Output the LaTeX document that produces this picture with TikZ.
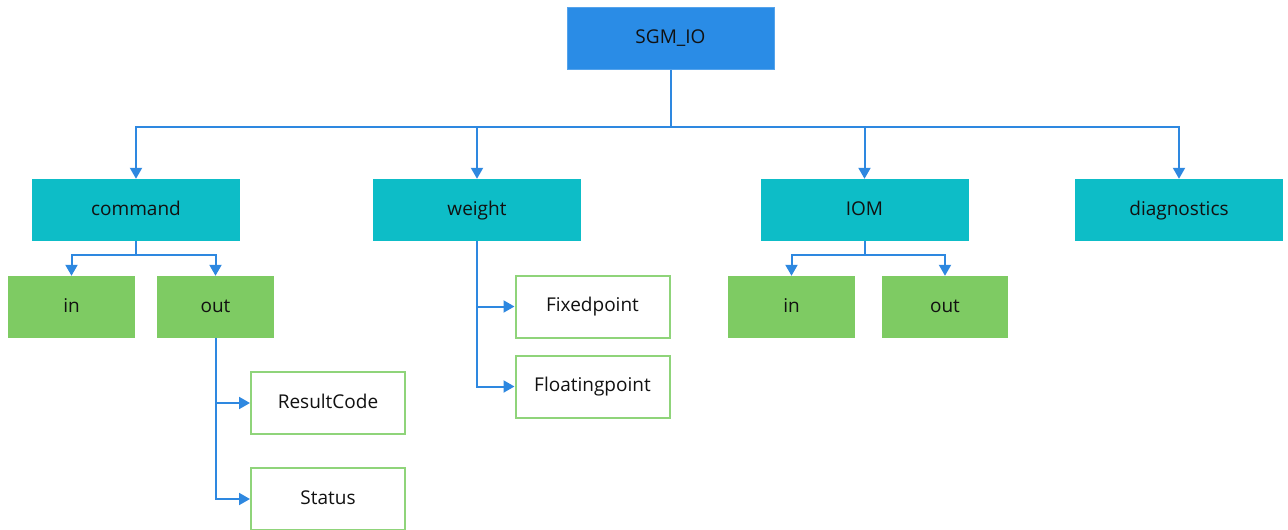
\documentclass[tikz,border=0pt]{standalone}
\usepackage{fontspec}
\setmainfont{Open Sans}
\usetikzlibrary{arrows.meta}
\definecolor{rootblue}{HTML}{2A8CE6}
\definecolor{teal1}{HTML}{0DBDC7}
\definecolor{green1}{HTML}{7ECB63}
\definecolor{greenline}{HTML}{8FD47A}
\definecolor{edgeblue}{HTML}{2E88E0}
\definecolor{txt}{HTML}{111111}
\tikzset{
  box/.style={rectangle, inner sep=0pt, text=txt, font=\fontsize{19}{22}\selectfont, text height=14pt, text depth=4pt},
  rootbox/.style={box, fill=rootblue, draw=rootblue!80!white, line width=1pt, minimum width=207pt, minimum height=62pt},
  lvl1/.style={box, fill=teal1, minimum width=208pt, minimum height=62pt},
  gbox/.style={box, fill=green1, minimum width=127pt, minimum height=62pt},
  wbox/.style={box, fill=white, draw=greenline, line width=2pt, minimum width=154pt, minimum height=62pt},
  conn/.style={draw=edgeblue, line width=2pt},
  arr/.style={conn, -{Triangle[width=12pt,length=11pt]}},
}
\begin{document}
\begin{tikzpicture}[x=1pt,y=-1pt]
\useasboundingbox (0,0) rectangle (1288,530);
\node[rootbox] (sgm) at (670.5,38) {SGM\_IO};
\node[lvl1] (cmd) at (136,210) {command};
\node[lvl1] (wgt) at (477,210) {weight};
\node[lvl1] (iom) at (864.5,210) {IOM};
\node[lvl1] (diag) at (1179,210) {diagnostics};
\node[gbox] (cin) at (71.5,307) {in};
\node[gbox, minimum width=117pt] (cout) at (215.5,307) {out};
\node[gbox] (iin) at (791.5,307) {in};
\node[gbox, minimum width=126pt] (iout) at (945,307) {out};
\node[wbox] (rc) at (328,403) {ResultCode};
\node[wbox] (st) at (328,499) {Status};
\node[wbox] (fix) at (592.5,306.5) {Fixedpoint};
\node[wbox] (flt) at (592.5,386.5) {Floatingpoint};
\coordinate (b0) at (670.5,127);
\coordinate (b1) at (136,255);
\coordinate (b2) at (864.5,255);
\draw[conn] (sgm.south) -- (b0);
\draw[arr] (b0) -| (cmd.north);
\draw[arr] (b0) -| (wgt.north);
\draw[arr] (b0) -| (iom.north);
\draw[arr] (b0) -| (diag.north);
\draw[conn] (cmd.south) -- (b1);
\draw[arr] (b1) -| (cin.north);
\draw[arr] (b1) -| (cout.north);
\draw[conn] (iom.south) -- (b2);
\draw[arr] (b2) -| (iin.north);
\draw[arr] (b2) -| (iout.north);
\draw[arr] (cout.south) |- (rc.west);
\draw[arr] (cout.south) |- (st.west);
\draw[arr] (wgt.south) |- (fix.west);
\draw[arr] (wgt.south) |- (flt.west);
\end{tikzpicture}
\end{document}
